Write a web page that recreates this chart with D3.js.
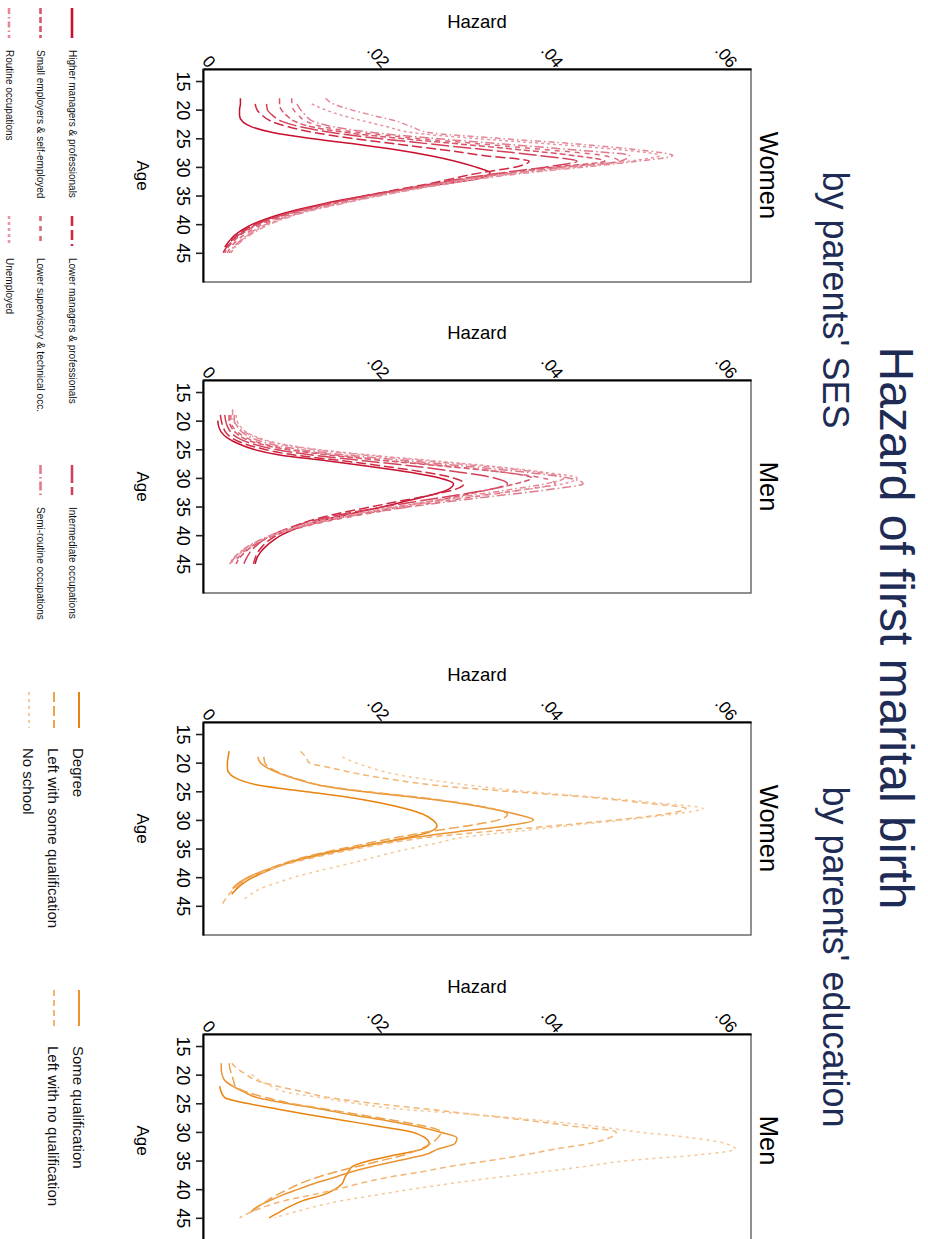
<!DOCTYPE html>
<html>
<head>
<meta charset="utf-8">
<script src="https://cdn.jsdelivr.net/npm/d3@7"></script>
<style>
  body { margin: 0; background: #fff; }
  svg { display: block; font-family: "Liberation Sans", Arial, Helvetica, sans-serif; }
</style>
</head>
<body>
<div id="chart"></div>
<script>
// Hazard of first marital birth, Stata-style figure printed sideways (rotated 90deg)

const ages = [18, 19, 20, 21, 22, 23, 24, 25, 26, 27, 28, 29, 30, 31, 32, 33, 34, 35, 36, 37, 38, 39, 40, 41, 42, 43, 44, 45];
const ageTicks = [15, 20, 25, 30, 35, 40, 45];
const hazardTicks = [0, 0.02, 0.04, 0.06];

const sesNames = [
  "Higher managers & professionals", "Lower managers & professionals", "Intermediate occupations",
  "Small employers & self-employed", "Lower supervisory & technical occ.", "Semi-routine occupations",
  "Routine occupations", "Unemployed"
];
const sesColors = ["#c8102e", "#ce2843", "#d3405a", "#d75368", "#dc6679", "#e07a8a", "#e48897", "#e796a3"];
const sesDash = [null, "10,4", "18,4", "6,3", "5,5", "9,3,1.5,3", "6,3,1.5,3", "3,3"];

const eduNames = ["Degree", "Some qualification", "Left with some qualification", "Left with no qualification", "No school"];
const eduColors = ["#e8830f", "#eb9330", "#eea24b", "#f2b574", "#f5c898"];
const eduDash = [null, null, "10,4", "6,4", "3,4"];

// parents' SES, women
const sesWomen = [
  [.0043,.0043,.0042,.0042,.0045,.0056,.0080,.0122,.0175,.0222,.0260,.0290,.0313,.0330,.0318,.0275,.0228,.0188,.0152,.0122,.0095,.0074,.0057,.0045,.0036,.0030,.0025,null],
  [null,.0060,.0062,.0068,.0078,.0098,.0128,.0170,.0222,.0275,.0322,.0375,.0360,.0320,.0288,.0258,.0222,.0188,.0155,.0125,.0098,.0077,.0060,.0048,.0039,.0032,.0027,.0023],
  [null,.0073,.0074,.0080,.0090,.0112,.0148,.0200,.0262,.0325,.0385,.0430,.0395,.0345,.0300,.0262,.0226,.0190,.0156,.0126,.0100,.0079,.0062,.0050,.0040,.0033,.0028,null],
  [.0088,.0088,.0090,.0096,.0105,.0125,.0165,.0225,.0295,.0365,.0425,.0462,.0405,.0350,.0303,.0265,.0228,.0193,.0160,.0130,.0103,.0082,.0065,.0052,.0042,.0035,.0029,.0025],
  [.0102,.0102,.0104,.0110,.0118,.0138,.0180,.0245,.0320,.0395,.0460,.0478,.0415,.0355,.0306,.0268,.0232,.0197,.0164,.0134,.0107,.0086,.0069,.0056,.0046,.0038,.0032,.0028],
  [null,.0108,.0112,.0118,.0126,.0150,.0195,.0265,.0345,.0425,.0490,.0480,.0420,.0360,.0310,.0270,.0236,.0200,.0168,.0138,.0111,.0090,.0073,.0060,.0050,.0042,.0035,.0030],
  [.0141,.0150,.0170,.0195,.0222,.0240,.0260,.0340,.0430,.0500,.0540,.0500,.0440,.0375,.0322,.0280,.0240,.0205,.0172,.0142,.0115,.0094,.0077,.0064,.0053,.0044,.0037,.0032],
  [null,.0125,.0140,.0160,.0185,.0212,.0240,.0310,.0400,.0480,.0525,.0490,.0432,.0368,.0318,.0276,.0238,.0203,.0170,.0140,.0113,.0092,.0075,.0062,.0051,.0043,.0036,.0031]
];

// parents' SES, men
const sesMen = [
  [null,null,.0017,.0018,.0021,.0028,.0040,.0058,.0088,.0142,.0192,.0238,.0272,.0288,.0282,.0262,.0235,.0208,.0178,.0148,.0122,.0104,.0090,.0080,.0072,.0066,.0062,.0060],
  [null,.0020,.0021,.0023,.0026,.0033,.0047,.0070,.0105,.0160,.0210,.0255,.0288,.0300,.0290,.0262,.0228,.0195,.0162,.0134,.0112,.0097,.0085,.0075,.0068,.0063,.0060,.0058],
  [null,.0025,.0026,.0028,.0032,.0040,.0056,.0082,.0125,.0185,.0245,.0295,.0335,.0350,.0330,.0292,.0250,.0210,.0172,.0140,.0114,.0094,.0079,.0068,.0060,.0054,.0050,.0047],
  [null,.0030,.0030,.0032,.0037,.0046,.0064,.0095,.0145,.0210,.0280,.0345,.0378,.0360,.0330,.0300,.0265,.0228,.0190,.0156,.0127,.0102,.0082,.0067,.0056,.0048,.0042,.0038],
  [null,.0032,.0032,.0034,.0040,.0050,.0068,.0100,.0152,.0218,.0285,.0345,.0390,.0405,.0370,.0325,.0280,.0238,.0198,.0162,.0130,.0104,.0083,.0067,.0055,.0046,.0040,.0036],
  [null,.0036,.0036,.0039,.0045,.0056,.0075,.0110,.0165,.0235,.0305,.0370,.0420,.0437,.0400,.0345,.0290,.0240,.0196,.0158,.0126,.0100,.0080,.0064,.0052,.0043,.0036,.0031],
  [.0034,.0034,.0035,.0040,.0048,.0062,.0085,.0125,.0185,.0255,.0325,.0385,.0415,.0395,.0355,.0310,.0265,.0222,.0184,.0150,.0121,.0097,.0078,.0063,.0051,.0042,.0035,.0030],
  [null,.0038,.0039,.0043,.0050,.0064,.0088,.0130,.0192,.0265,.0335,.0392,.0430,.0415,.0372,.0322,.0272,.0226,.0186,.0152,.0123,.0099,.0080,.0065,.0053,.0044,.0037,.0032]
];

// parents' education, women
const eduWomen = [
  [.0030,.0029,.0028,.0028,.0031,.0042,.0066,.0115,.0165,.0203,.0232,.0253,.0264,.0269,.0262,.0238,.0203,.0168,.0133,.0108,.0088,.0072,.0058,.0047,.0039,.0033,null,null],
  [null,.0063,.0066,.0075,.0090,.0110,.0135,.0180,.0240,.0292,.0330,.0360,.0380,.0350,.0295,.0245,.0205,.0170,.0138,.0110,.0088,.0068,.0052,.0041,.0034,null,null,null],
  [null,.0070,.0071,.0078,.0092,.0112,.0138,.0185,.0245,.0295,.0332,.0350,.0340,.0305,.0262,.0225,.0192,.0160,.0130,.0105,.0085,.0068,.0054,.0044,.0036,null,null,null],
  [.0112,.0118,.0122,.0150,.0180,.0220,.0270,.0350,.0440,.0505,.0555,.0530,.0475,.0405,.0330,.0262,.0215,.0178,.0145,.0115,.0090,.0070,.0054,.0043,.0036,.0030,.0025,.0021],
  [null,.0160,.0175,.0195,.0220,.0260,.0310,.0370,.0450,.0520,.0575,.0540,.0485,.0420,.0360,.0300,.0270,.0238,.0210,.0185,.0158,.0130,.0105,.0085,.0066,.0055,.0046,null]
];

// parents' education, men
const eduMen = [
  [null,null,null,null,.0019,.0021,.0025,.0050,.0085,.0122,.0162,.0202,.0240,.0255,.0260,.0252,.0222,.0192,.0172,.0167,.0163,.0160,.0152,.0138,.0115,.0100,.0088,.0076],
  [.0021,.0021,.0022,.0025,.0034,.0047,.0062,.0095,.0135,.0170,.0210,.0245,.0272,.0292,.0290,.0270,.0255,.0225,.0196,.0170,.0150,.0128,.0110,.0092,.0077,.0063,.0055,null],
  [.0030,.0031,.0033,.0035,.0037,.0050,.0072,.0100,.0140,.0180,.0220,.0255,.0274,.0270,.0262,.0250,.0232,.0205,.0178,.0152,.0130,.0112,.0098,.0085,.0074,.0064,.0056,null],
  [.0033,.0040,.0050,.0061,.0085,.0115,.0145,.0195,.0257,.0315,.0374,.0425,.0475,.0468,.0445,.0405,.0370,.0330,.0285,.0250,.0210,.0180,.0155,.0125,.0094,.0072,.0055,.0042],
  [null,null,.0056,.0065,.0078,.0094,.0135,.0175,.0225,.0315,.0390,.0450,.0500,.0560,.0600,.0612,.0570,.0490,.0440,.0390,.0335,.0285,.0240,.0200,.0160,.0130,.0105,.0082]
];

const W = 928, H = 1239;
const box = { left: 203, right: 751, height: 213 };

const panels = [
  { label: "Women", top: 69, data: sesWomen, colors: sesColors, dash: sesDash },
  { label: "Men", top: 380, data: sesMen, colors: sesColors, dash: sesDash },
  { label: "Women", top: 722, data: eduWomen, colors: eduColors, dash: eduDash },
  { label: "Men", top: 1034, data: eduMen, colors: eduColors, dash: eduDash }
];

const svg = d3.select("#chart").append("svg").attr("width", W).attr("height", H);

const x = d3.scaleLinear().domain([0, 0.063]).range([box.left, box.right]);
const hazFmt = (d) => (d === 0 ? "0" : d3.format(".2f")(d).replace(/^0/, ""));

panels.forEach((p) => {
  const y = d3.scaleLinear().domain([12.9, 50.1]).range([p.top, p.top + box.height]);
  const g = svg.append("g");

  g.append("rect")
    .attr("x", box.left).attr("y", p.top)
    .attr("width", box.right - box.left).attr("height", box.height)
    .attr("fill", "none").attr("stroke", "#555").attr("stroke-width", 1.3);

  // curves
  const line = d3.line()
    .defined((d) => d.h != null)
    .x((d) => x(d.h))
    .y((d) => y(d.age))
    .curve(d3.curveMonotoneY);

  p.data.forEach((vals, i) => {
    const pts = ages.map((a, k) => ({ age: a, h: vals[k] }));
    g.append("path")
      .datum(pts)
      .attr("d", line)
      .attr("fill", "none")
      .attr("stroke", p.colors[i])
      .attr("stroke-width", 1.5)
      .attr("stroke-dasharray", p.dash[i]);
  });

  // age axis (left side of the printed page)
  const ageAxis = g.append("g")
    .attr("transform", `translate(${box.left},0)`)
    .call(d3.axisLeft(y).tickValues(ageTicks).tickSize(7).tickSizeOuter(0));
  ageAxis.select(".domain").attr("stroke", "#000").attr("stroke-width", 2);
  ageAxis.selectAll(".tick line").attr("stroke", "#222").attr("stroke-width", 1.6);
  ageAxis.selectAll(".tick text")
    .attr("x", null).attr("dy", null)
    .attr("text-anchor", "middle")
    .attr("transform", "translate(-26.5,0) rotate(90)")
    .attr("font-size", 18).attr("fill", "#000");

  // hazard axis (top of the printed page)
  const hazAxis = g.append("g")
    .attr("transform", `translate(0,${p.top})`)
    .call(d3.axisTop(x).tickValues(hazardTicks).tickSize(0).tickSizeOuter(0).tickFormat(hazFmt));
  hazAxis.select(".domain").attr("stroke", "#000").attr("stroke-width", 2);
  hazAxis.selectAll(".tick text")
    .attr("y", 0).attr("dy", null)
    .attr("text-anchor", "end")
    .attr("transform", "translate(4,0) rotate(50)")
    .attr("font-size", 17).attr("fill", "#000");

  g.append("text")
    .attr("x", (box.left + box.right) / 2).attr("y", p.top - 41)
    .attr("text-anchor", "middle").attr("font-size", 18.5)
    .text("Hazard");

  const mid = p.top + box.height / 2;
  g.append("text")
    .attr("transform", `translate(137,${mid}) rotate(90)`)
    .attr("text-anchor", "middle").attr("font-size", 17)
    .text("Age");

  g.append("text")
    .attr("transform", `translate(760,${mid}) rotate(90)`)
    .attr("text-anchor", "middle").attr("font-size", 25.5)
    .text(p.label);
});

// titles
svg.append("text")
  .attr("transform", "translate(880,628) rotate(90)")
  .attr("text-anchor", "middle").attr("font-size", 48).attr("fill", "#1d2b55")
  .text("Hazard of first marital birth");
svg.append("text")
  .attr("transform", "translate(823,300) rotate(90)")
  .attr("text-anchor", "middle").attr("font-size", 36).attr("fill", "#1d2b55")
  .text("by parents' SES");
svg.append("text")
  .attr("transform", "translate(823,957) rotate(90)")
  .attr("text-anchor", "middle").attr("font-size", 36).attr("fill", "#1d2b55")
  .text("by parents' education");

// legend: parents' SES (3 columns)
const sesRowX = [72, 40.5, 9];
const sesColY = [8, 216, 465];
const sesLeg = svg.append("g");
sesNames.forEach((name, i) => {
  const kx = sesRowX[Math.floor(i / 3)];
  const ky = sesColY[i % 3];
  sesLeg.append("line")
    .attr("x1", kx).attr("x2", kx).attr("y1", ky).attr("y2", ky + 30)
    .attr("stroke", sesColors[i]).attr("stroke-width", 2.6)
    .attr("stroke-dasharray", sesDash[i]);
  sesLeg.append("text")
    .attr("transform", `translate(${kx - 3.5},${ky + 42}) rotate(90)`)
    .attr("font-size", 10).attr("fill", "#111")
    .text(name);
});

// legend: parents' education (2 columns)
const eduRowX = [79, 54, 29];
const eduColY = [692, 990];
const eduLeg = svg.append("g");
eduNames.forEach((name, i) => {
  const kx = eduRowX[Math.floor(i / 2)];
  const ky = eduColY[i % 2];
  eduLeg.append("line")
    .attr("x1", kx).attr("x2", kx).attr("y1", ky).attr("y2", ky + 36)
    .attr("stroke", eduColors[i]).attr("stroke-width", 2)
    .attr("stroke-dasharray", eduDash[i]);
  eduLeg.append("text")
    .attr("transform", `translate(${kx - 6.5},${ky + 56}) rotate(90)`)
    .attr("font-size", 15).attr("fill", "#111")
    .text(name);
});
</script>
</body>
</html>
